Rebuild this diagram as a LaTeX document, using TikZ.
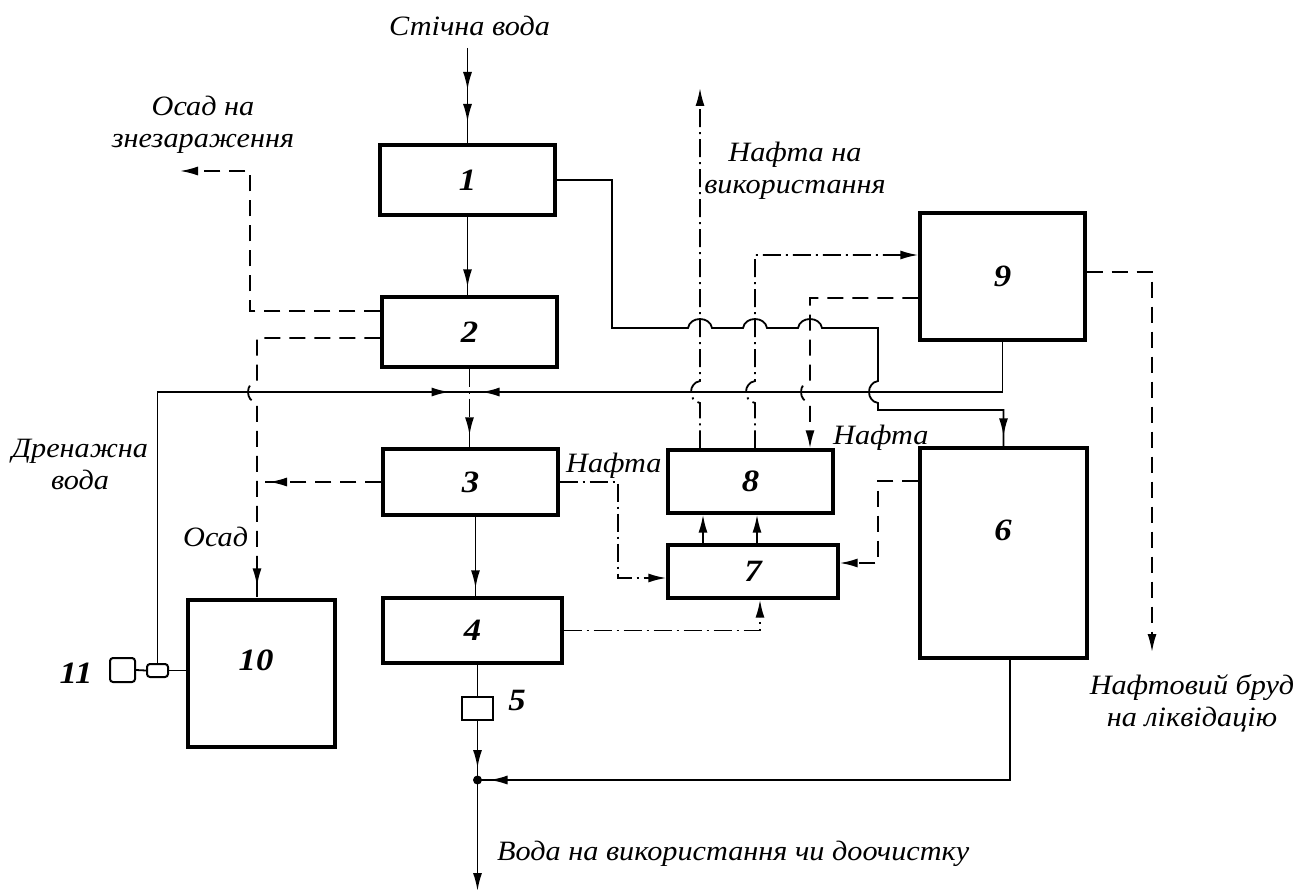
\documentclass[tikz,border=0pt]{standalone}
\usepackage{fontspec}
\setmainfont{Liberation Serif}
\newfontfamily\lblfam[FakeStretch=1.08]{Liberation Serif}
\newfontfamily\numfam[FakeStretch=1.12]{Liberation Serif}
\usetikzlibrary{arrows.meta,decorations.markings,calc}
\newcommand\dnum{\numfam\fontsize{31}{31}\selectfont\bfseries\itshape}
\newcommand\dlbl{\lblfam\fontsize{28}{32}\selectfont\itshape}
\begin{document}
\begin{tikzpicture}[x=1pt,y=-1pt,
  >={Latex[length=18pt,width=9pt]},
  box/.style={draw,line width=3.4pt,inner sep=0pt,font=\dnum},
  num/.style={font=\dnum,inner sep=0pt},
  lbl/.style={font=\dlbl,inner sep=0pt},
  wline/.style={line width=1.8pt},
  sline/.style={line width=1.8pt,dash pattern=on 16pt off 9pt},
  oline/.style={line width=1.8pt,dash pattern=on 18pt off 5pt on 2pt off 5pt},
  arr/.style={postaction={decorate,decoration={markings,mark=at position #1 with {\arrow{>}}}}}]
\path[use as bounding box] (0,0) rectangle (1297,893);

% boxes
\node[box,minimum width=175pt,minimum height=70pt] (b1) at (467.5,180) {1};
\node[box,minimum width=175pt,minimum height=70pt] (b2) at (469.5,332) {2};
\node[box,minimum width=175pt,minimum height=66pt] (b3) at (470.5,482) {3};
\node[box,minimum width=179pt,minimum height=65pt] (b4) at (472.5,630.5) {4};
\node[draw,line width=2.4pt,minimum width=31pt,minimum height=23pt,inner sep=0pt] (b5) at (477.5,708.5) {};
\node[box,minimum width=167pt,minimum height=210pt] (b6) at (1003.5,553) {};
\node[box,minimum width=170pt,minimum height=53pt] (b7) at (753,571.5) {7};
\node[box,minimum width=165pt,minimum height=63pt] (b8) at (750.5,481.5) {8};
\node[box,minimum width=165pt,minimum height=127pt] (b9) at (1002.5,276.5) {9};
\node[box,minimum width=147pt,minimum height=147pt] (b10) at (261.5,673.5) {};
\node[draw,line width=2pt,rounded corners=3pt,minimum width=25pt,minimum height=24pt,inner sep=0pt] (b11a) at (122.5,670) {};
\node[draw,line width=2pt,rounded corners=3pt,minimum width=21pt,minimum height=13pt,inner sep=0pt] (b11b) at (157.5,670.5) {};

% numbers outside box text
\node[num] (n5) at (517,700) {5};
\node[num] (n6) at (1003,530) {6};
\node[num] (n10) at (256,660) {10};
\node[num] (n11) at (76,673) {11};

% coordinates
\coordinate (in) at (467.5,48);
\coordinate (j23) at (469.5,392);
\coordinate (jn) at (477.5,780);
\coordinate (out) at (477.5,891);
\coordinate (osad) at (180,171);
\coordinate (oilout) at (700,88);
\coordinate (brudout) at (1152,652);

% main water line
\draw[wline,arr=42pt,arr=74pt] (in) -- (b1.north);
\draw[wline,arr=-8pt] (b1.south) -- (b1.south |- b2.north);
\draw[oline,arr=-12pt] (b2.south) -- (b2.south |- b3.north);
\draw[wline,arr=-8pt] ([xshift=5pt]b3.south) -- ([xshift=5pt]b3.south |- b4.north);
\draw[wline] (b4.south -| b5.north) -- (b5.north);
\draw[wline,arr=-12pt] (b5.south) -- (jn);
\draw[wline,->] (jn) -- (out);
\draw[wline,arr=-12pt] ([xshift=6.5pt]b6.south) |- (jn);
\fill (jn) circle (4.5pt);

% from box 1 to box 6
\draw[wline,arr=-10pt] (b1.east) -- (612,180) -- (612,328)
  -- (688,328) .. controls (690,316) and (710,316) .. (712,328)
  -- (743,328) .. controls (745,316) and (765,316) .. (767,328)
  -- (798,328) .. controls (800,316) and (820,316) .. (822,328)
  -- (878,328) -- (878,381) .. controls (866,383) and (866,401) .. (878,403)
  -- (878,410) -| (b6.north);

% drainage water line
\draw[wline,arr=-20pt] (b11b.north) |- (j23);
\draw[wline,arr=-12pt] (b9.south) |- (j23);

% sludge from box 2
\draw[sline,->] ([yshift=21pt]b2.west) -- (250,311) -- (250,171) -- (osad);
\draw[sline,arr=-12pt] ([yshift=-6pt]b2.west) -- (257,338) -- (257,381)
  .. controls (245,383) and (245,401) .. (257,403) -- ([xshift=-4.5pt]b10.north);
\draw[sline,arr=-12pt] (b3.west) -- (257,482);

% oil lines
\draw[oline,->] (b3.east) -- (618,482) -- (618,578) -- ([yshift=-6.5pt]b7.west);
\draw[oline,->] (b4.east) -| ([xshift=7pt]b7.south);
\draw[sline,->] ([yshift=72pt]b6.west) -- (878,481) -- (878,563) -- ([yshift=8.5pt]b7.east);
\draw[wline,->] ([xshift=-50pt]b7.north) -- ([xshift=-47.5pt]b8.south);
\draw[wline,->] ([xshift=4pt]b7.north) -- ([xshift=6.5pt]b8.south);

\draw[oline,->] ([xshift=-50.5pt]b8.north) -- (700,403)
  .. controls (688,401) and (688,383) .. (700,381) -- (oilout);
\draw[oline,->] ([xshift=4.5pt]b8.north) -- (755,403)
  .. controls (743,401) and (743,383) .. (755,381) -- (755,255) -- ([yshift=21.5pt]b9.west);
\draw[sline,->] ([yshift=-21.5pt]b9.west) -- (810,298) -- (810,381)
  .. controls (798,383) and (798,401) .. (810,403) -- ([xshift=59.5pt]b8.north);
\draw[sline,->] ([yshift=4.5pt]b9.east) -- (1152,272) -- (brudout);

% pump 11
\draw[wline] (b11a.east) -- (b11b.west);
\draw[wline] (b11b.east) -- (b11b.east -| b10.west);

% labels
\node[lbl,anchor=base west] (t1) at (389,36) {Стічна вода};
\node[lbl,anchor=north,align=center] (t2) at (203,96) {Осад на\\знезараження};
\node[lbl,anchor=north,align=center] (t3) at (795,142) {Нафта на\\використання};
\node[lbl,anchor=north,align=center] (t4) at (80,439) {Дренажна\\вода};
\node[lbl,anchor=base west] (t5) at (183,546) {Осад};
\node[lbl,anchor=base west] (t6) at (566,472) {Нафта};
\node[lbl,anchor=base west] (t7) at (833,444) {Нафта};
\node[lbl,anchor=north,align=center] (t8) at (1192,674) {Нафтовий бруд\\на ліквідацію};
\node[lbl,anchor=base west] (t9) at (497,860) {Вода на використання чи доочистку};
\end{tikzpicture}
\end{document}
